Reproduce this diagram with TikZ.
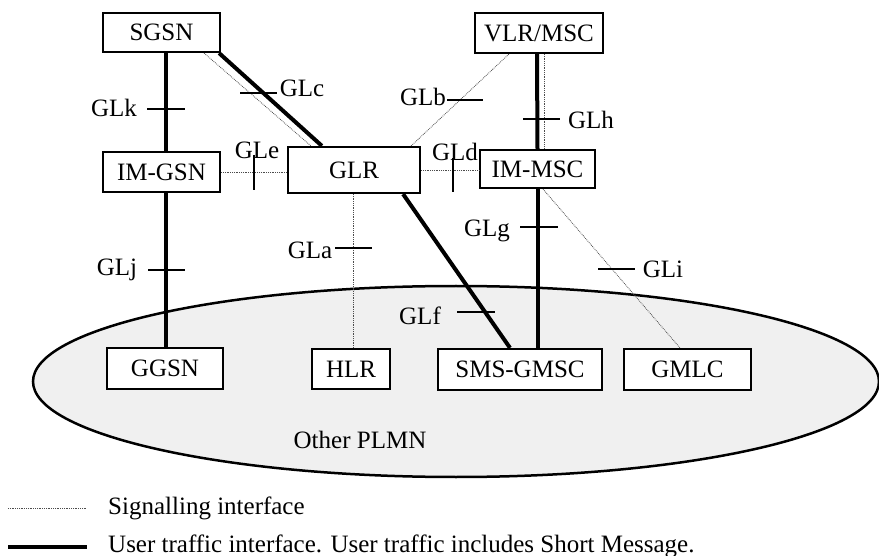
\documentclass[tikz,border=0pt]{standalone}
\usepackage{fontspec}
\setmainfont{Liberation Serif}
\definecolor{plmngray}{RGB}{240,240,240}
\begin{document}
\begin{tikzpicture}[x=1pt,y=-1pt,font=\fontsize{25}{28}\selectfont,
  box/.style={draw,line width=2.2pt,fill=white,inner sep=0pt,minimum height=40pt},
  sig/.style={line width=0.8pt,densely dotted,black!70},
  usr/.style={line width=4pt},
  tick/.style={line width=1.4pt}]
\useasboundingbox (0,0) rectangle (879,556);
\draw[line width=2.5pt,fill=plmngray](456,381.5) ellipse [x radius=423,y radius=95.5];
\node (plmn) at (360,440) {Other PLMN};

\node[box,minimum width=117pt,minimum height=39pt] (sgsn) at (161.5,32.5) {SGSN};
\node[box,minimum width=128pt] (vlr) at (539,33) {VLR/MSC};
\node[box,minimum width=117pt] (imgsn) at (161.5,172) {IM-GSN};
\node[box,minimum width=132pt,minimum height=46pt] (glr) at (354,170) {GLR};
\node[box,minimum width=115pt,minimum height=38pt] (immsc) at (537.5,169) {IM-MSC};
\node[box,minimum width=116pt,minimum height=41pt] (ggsn) at (165,368.5) {GGSN};
\node[box,minimum width=78pt] (hlr) at (351,369) {HLR};
\node[box,minimum width=164pt,minimum height=41pt] (smsg) at (520,369.5) {SMS-GMSC};
\node[box,minimum width=127pt,minimum height=41pt] (gmlc) at (687.5,369.5) {GMLC};

% user traffic
\draw[usr]([xshift=4.5pt]sgsn.south)--([xshift=4.5pt]imgsn.north);
\draw[usr]([xshift=4.5pt]imgsn.south)--([xshift=1pt]ggsn.north);
\draw[usr]([xshift=-2pt]sgsn.south east)--([xshift=35pt]glr.north west);
\draw[usr]([xshift=-18pt]glr.south east)--([xshift=-10pt]smsg.north);
\draw[usr]([xshift=-2pt]vlr.south)--(immsc.north);
\draw[usr](immsc.south)--([xshift=17.5pt]smsg.north);

% signalling
\draw[sig]([xshift=-17pt]sgsn.south east)--([xshift=24pt]glr.north west);
\draw[sig](imgsn.east)--(imgsn.east -| glr.west);
\draw[sig](glr.east)--(glr.east -| immsc.west);
\draw[sig]([xshift=-10pt]glr.north east)--([xshift=35pt]vlr.south west);
\draw[sig]([xshift=5pt]vlr.south)--([xshift=6.5pt]immsc.north);
\draw[sig]([xshift=-1pt]glr.south)--([xshift=-1pt]glr.south |- hlr.north);
\draw[sig]([xshift=5.5pt]immsc.south)--([xshift=-7.5pt]gmlc.north);

% interface marks
\draw[tick](147,109)--(185,109);\node (glk) at (114,108) {GLk};
\draw[tick](240,93)--(277,93);\node (glc) at (302,88) {GLc};
\draw[tick](254,155)--(254,190);\node (gle) at (257,150) {GLe};
\draw[tick](447,100)--(483,100);\node (glb) at (423,97) {GLb};
\draw[tick](453,158)--(453,192);\node (gld) at (455,152) {GLd};
\draw[tick](523,119)--(560,119);\node (glh) at (591,120) {GLh};
\draw[tick](148,270)--(185,270);\node (glj) at (117,270) {GLj};
\draw[tick](335,248)--(372,248);\node (gla) at (310,250) {GLa};
\draw[tick](520,227)--(558,227);\node (glg) at (487,231) {GLg};
\draw[tick](598,269)--(635,269);\node (gli) at (663,269) {GLi};
\draw[tick](457,312)--(495,312);\node (glf) at (420,316) {GLf};

% legend
\draw[sig](8,508)--(87,508);
\node[anchor=west,inner sep=0pt] (lsig) at (108,508) {Signalling interface};
\draw[usr](8,547)--(87,547);
\node[anchor=west,inner sep=0pt] (lusr) at (108,546) {User traffic interface. User traffic includes Short Message.};
\end{tikzpicture}
\end{document}
